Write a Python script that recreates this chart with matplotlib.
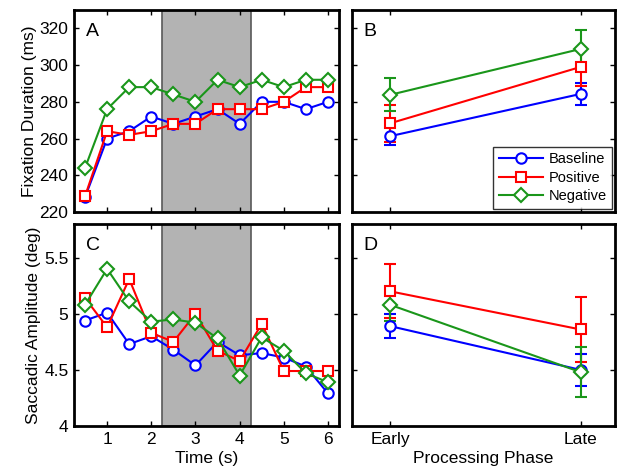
import matplotlib
matplotlib.use("Agg")
import matplotlib.pyplot as plt
import numpy as np

plt.rcParams['font.family'] = ['Liberation Sans', 'DejaVu Sans']

# ---- data ----
time = [0.5, 1, 1.5, 2, 2.5, 3, 3.5, 4, 4.5, 5, 5.5, 6]
series = ["Baseline", "Positive", "Negative"]
colors = ["#0000ff", "#ff0000", "#1a961a"]
markers = ["o", "s", "D"]

fix_baseline = [228, 260, 264, 272, 268, 272, 276, 268, 280, 280, 276, 280]
fix_positive = [228.6, 264, 262, 264, 268, 268, 276, 276, 276, 280, 288, 288]
fix_negative = [244, 276, 288, 288, 284, 280, 292, 288, 292, 288, 292, 292]

amp_baseline = [4.94, 5.01, 4.73, 4.80, 4.68, 4.54, 4.75, 4.63, 4.65, 4.61, 4.53, 4.29]
amp_positive = [5.14, 4.88, 5.31, 4.83, 4.75, 5.00, 4.67, 4.58, 4.91, 4.49, 4.49, 4.49]
amp_negative = [5.08, 5.40, 5.11, 4.93, 4.95, 4.92, 4.78, 4.45, 4.79, 4.67, 4.47, 4.39]

phases = ["Early", "Late"]
fixp_mean = {"Baseline": [261.3, 284.3], "Positive": [268.3, 299.0], "Negative": [283.8, 308.8]}
fixp_err = {"Baseline": [4.8, 6.0], "Positive": [10.0, 10.3], "Negative": [9.0, 10.2]}
ampp_mean = {"Baseline": [4.89, 4.50], "Positive": [5.20, 4.86], "Negative": [5.08, 4.48]}
ampp_err = {"Baseline": [0.11, 0.14], "Positive": [0.24, 0.29], "Negative": [0.145, 0.225]}

highlight = (2.25, 4.25)

fix_series = [fix_baseline, fix_positive, fix_negative]
amp_series = [amp_baseline, amp_positive, amp_negative]

# ---- figure ----
W, H = 618, 473
fig = plt.figure(figsize=(W / 100, H / 100), dpi=100)

def ax_at(x0, y0, x1, y1):
    return fig.add_axes([x0 / W, 1 - y1 / H, (x1 - x0) / W, (y1 - y0) / H])

axA = ax_at(74, 10, 339, 212)
axB = ax_at(352, 10, 615, 212)
axC = ax_at(74, 224, 339, 426)
axD = ax_at(352, 224, 615, 426)

FS = 12.5

def style(ax):
    for s in ax.spines.values():
        s.set_linewidth(2)
    ax.tick_params(direction='in', length=3.5, width=1, top=True, right=True,
                   labelsize=FS, pad=4)

ms = 7.5
lw = 1.5
for ax, data in [(axA, fix_series), (axC, amp_series)]:
    ax.axvspan(highlight[0], highlight[1], facecolor=(0.7, 0.7, 0.7),
               edgecolor=(0.35, 0.35, 0.35), linewidth=1.2, zorder=0)
    for d, c, m in zip(data, colors, markers):
        ax.plot(time, d, color=c, marker=m, markersize=ms if m != 'D' else ms - 0.5,
                markerfacecolor='white', markeredgecolor=c, markeredgewidth=1.5,
                linewidth=lw)
    ax.set_xlim(0.25, 6.25)
    ax.set_xticks([1, 2, 3, 4, 5, 6])
    style(ax)

for ax, mean, err in [(axB, fixp_mean, fixp_err), (axD, ampp_mean, ampp_err)]:
    for name, c, m in zip(series, colors, markers):
        ax.errorbar([1, 2], mean[name], yerr=err[name], color=c, marker=m,
                    markersize=ms if m != 'D' else ms - 0.5,
                    markerfacecolor='white', markeredgecolor=c,
                    markeredgewidth=1.5, linewidth=lw, elinewidth=1.5,
                    capsize=4.5, capthick=1.5, label=name)
    ax.set_xlim(0.8, 2.18)
    ax.set_xticks([1, 2])
    style(ax)

axA.set_ylim(220, 330)
axA.set_yticks([220, 240, 260, 280, 300, 320])
axB.set_ylim(220, 330)
axB.set_yticks([220, 240, 260, 280, 300, 320])
axC.set_ylim(4, 5.8)
axC.set_yticks([4, 4.5, 5, 5.5])
axC.set_yticklabels(["4", "4.5", "5", "5.5"])
axD.set_ylim(4, 5.8)
axD.set_yticks([4, 4.5, 5, 5.5])

axA.set_xticklabels([])
axB.set_xticklabels([])
axB.set_yticklabels([])
axD.set_yticklabels([])
axD.set_xticklabels(phases)

axA.set_ylabel("Fixation Duration (ms)", fontsize=FS, labelpad=2)
axC.set_ylabel("Saccadic Amplitude (deg)", fontsize=FS, labelpad=2)
axC.set_xlabel("Time (s)", fontsize=FS, labelpad=3)
axD.set_xlabel("Processing Phase", fontsize=FS, labelpad=3)

for ax, lab in [(axA, "A"), (axB, "B"), (axC, "C"), (axD, "D")]:
    ax.text(0.045, 0.935, lab, transform=ax.transAxes, fontsize=14,
            va='top', ha='left')

handles, labels = axB.get_legend_handles_labels()
handles = [h[0] for h in handles]
leg = axB.legend(handles, labels, loc='lower right', bbox_to_anchor=(0.99, 0.015),
                 fontsize=10.5, frameon=True, fancybox=False, edgecolor='black',
                 handlelength=3.0, borderpad=0.4, labelspacing=0.3,
                 handletextpad=0.4, borderaxespad=0.0)
leg.get_frame().set_linewidth(1.0)

fig.savefig("out.png", dpi=100)
